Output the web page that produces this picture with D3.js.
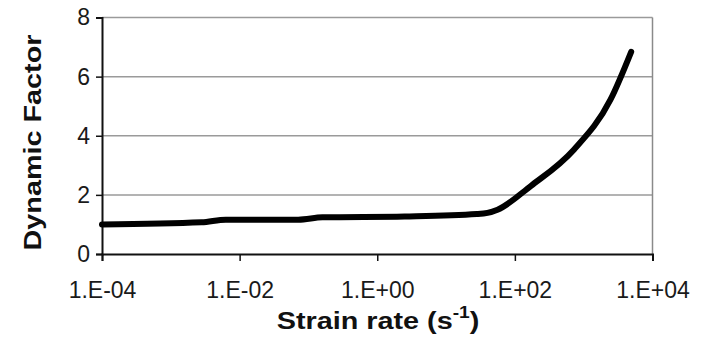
<!DOCTYPE html>
<html>
<head>
<meta charset="utf-8">
<title>Dynamic Factor</title>
<script src="https://cdn.jsdelivr.net/npm/d3@7"></script>
<style>
* {
    margin: 0;
    padding: 0;
}
body {
    background: #fff;
    font-family: "Liberation Sans", Arial, sans-serif;
}
.grid line {
    stroke: #9a9a9a;
    stroke-width: 1.5px;
}
.tickLabel {
    font-size: 23px;
    fill: #1a1a1a;
}
.axisTitle {
    font-size: 24px;
    font-weight: bold;
    fill: #111;
}
</style>
</head>
<body>
<svg width="702" height="344" id="svgLine"></svg>
<script>
// strain rate (1/s) and dynamic factor
var strainRate = [1e-4, 2.8e-3, 6.3e-3, 7.1e-2, 1.6e-1, 2.5, 28, 40, 56, 170, 720, 2450, 4900];
var dynFactor  = [1.00, 1.07, 1.16, 1.16, 1.24, 1.27, 1.35, 1.39, 1.50, 2.30, 3.53, 5.22, 6.84];

var xTicks = [1e-4, 1e-2, 1e0, 1e2, 1e4];
var xTickLabels = ["1.E-04", "1.E-02", "1.E+00", "1.E+02", "1.E+04"];
var yTicks = [0, 2, 4, 6, 8];

var svg = d3.select("svg"),
    margin = {top: 17.5, right: 49.5, bottom: 90, left: 102},
    width = +svg.attr("width") - margin.left - margin.right,
    height = +svg.attr("height") - margin.top - margin.bottom,
    g = svg.append("g").attr("transform", "translate(" + margin.left + "," + margin.top + ")");

var x = d3.scaleLog().domain([1e-4, 1e4]).range([0, width]);
var y = d3.scaleLinear().domain([0, 8]).range([height, 0]);

var data = strainRate.map(function(d, i) {
    return {rate: d, factor: dynFactor[i]};
});

// gridlines (the one at 8 is the top border)
g.append("g").attr("class", "grid")
    .selectAll("line").data(yTicks.slice(1)).enter().append("line")
    .attr("x1", 0).attr("x2", width)
    .attr("y1", function(d) { return y(d); })
    .attr("y2", function(d) { return y(d); });

// right border
g.append("line")
    .attr("x1", width).attr("x2", width)
    .attr("y1", 0).attr("y2", height)
    .attr("stroke", "#8a8a8a").attr("stroke-width", 1.5);

// left axis
var yAxis = g.append("g")
    .call(d3.axisLeft(y).tickValues(yTicks).tickSize(6).tickPadding(6).tickFormat(d3.format("d")));
yAxis.select(".domain").attr("stroke", "#111").attr("stroke-width", 2);
yAxis.selectAll(".tick line").attr("stroke", "#111").attr("stroke-width", 1.5);
yAxis.selectAll(".tick text").attr("class", "tickLabel").attr("font-family", null).attr("font-size", null);

// bottom axis
var xAxis = g.append("g")
    .attr("transform", "translate(0," + height + ")")
    .call(d3.axisBottom(x).tickValues(xTicks).tickSize(7).tickPadding(0)
        .tickFormat(function(d, i) { return xTickLabels[i]; }));
xAxis.select(".domain").attr("stroke", "#111").attr("stroke-width", 2);
xAxis.selectAll(".tick line").attr("stroke", "#111").attr("stroke-width", 1.5);
xAxis.selectAll(".tick text").attr("class", "tickLabel").attr("font-family", null).attr("font-size", null)
    .attr("dy", null).attr("y", 44);

// the curve
var line = d3.line()
    .x(function(d) { return x(d.rate); })
    .y(function(d) { return y(d.factor); })
    .curve(d3.curveMonotoneX);

g.append("path").datum(data)
    .attr("fill", "none")
    .attr("stroke", "#000")
    .attr("stroke-width", 6)
    .attr("stroke-linejoin", "round")
    .attr("stroke-linecap", "round")
    .attr("d", line);

// axis titles
var xt = svg.append("text").attr("class", "axisTitle")
    .attr("text-anchor", "middle")
    .attr("transform", "translate(378,329) scale(1.2,1)");
xt.append("tspan").text("Strain rate (s");
xt.append("tspan").attr("font-size", "16px").attr("dy", -11).text("-1");
xt.append("tspan").attr("dy", 11).text(")");

svg.append("text").attr("class", "axisTitle")
    .attr("text-anchor", "middle")
    .attr("transform", "translate(40.5,142.5) rotate(-90) scale(1.2,1)")
    .text("Dynamic Factor");
</script>
</body>
</html>
